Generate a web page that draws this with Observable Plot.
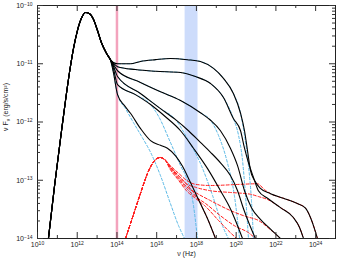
<!DOCTYPE html>
<html><head><meta charset="utf-8">
<script src="https://cdn.jsdelivr.net/npm/d3@7"></script>
<script src="https://cdn.jsdelivr.net/npm/@observablehq/plot@0.6"></script>
<style>body{margin:0;background:#fff}svg{font-family:"Liberation Sans",Arial,sans-serif}</style>
</head><body><div id="chart"></div>
<script>
// log10(nu [Hz]) and log10(nu F_nu [erg/s/cm2])
const synchNu = [10.55, 10.86, 11.21, 11.41, 11.61, 11.81, 12.01, 12.21, 12.42, 12.62, 12.82, 13.02, 13.22, 13.47, 13.67];
const synchF  = [-14.00, -13.09, -12.15, -11.63, -11.15, -10.74, -10.43, -10.22, -10.12, -10.14, -10.24, -10.43, -10.64, -10.82, -10.93];

const tail1Nu = [13.82, 14.03, 14.68, 15.18, 15.94, 16.69, 17.55, 18.20, 18.86, 19.36, 19.86, 20.22, 20.42, 20.57, 20.72, 20.92, 21.22, 21.73, 22.38, 23.08, 23.49, 23.74, 23.94, 24.09];
const tail1F  = [-10.98, -11.00, -11.00, -10.96, -10.93, -10.91, -10.93, -10.96, -11.08, -11.25, -11.51, -11.85, -12.15, -12.49, -12.83, -13.00, -13.14, -13.23, -13.31, -13.40, -13.48, -13.64, -13.83, -14.00];
const tail2Nu = [13.82, 14.03, 14.93, 15.94, 17.20, 17.95, 18.71, 19.36, 19.86, 20.22, 20.42, 20.62, 20.87, 21.12, 21.58, 22.23, 22.88, 23.19, 23.39];
const tail2F  = [-10.99, -11.05, -11.10, -11.13, -11.15, -11.22, -11.34, -11.58, -11.94, -12.15, -12.45, -12.70, -12.95, -13.18, -13.31, -13.47, -13.64, -13.81, -14.00];
const tail3Nu = [13.82, 14.03, 15.18, 16.19, 17.20, 18.20, 18.71, 19.21, 19.71, 20.07, 20.42, 20.77, 21.22, 21.73, 22.23];
const tail3F  = [-11.01, -11.12, -11.32, -11.48, -11.63, -11.84, -11.97, -12.15, -12.45, -12.75, -13.18, -13.47, -13.67, -13.84, -14.00];
const tail4Nu = [13.82, 14.03, 15.18, 16.19, 16.95, 17.60, 18.20, 18.71, 19.21, 19.71, 20.07, 20.37, 20.67, 20.97];
const tail4F  = [-11.04, -11.22, -11.51, -11.77, -11.96, -12.15, -12.35, -12.52, -12.70, -12.92, -13.18, -13.49, -13.76, -14.00];
const tail5Nu = [13.82, 14.03, 14.93, 15.69, 16.44, 17.20, 17.85, 18.56, 19.21, 19.71, 20.07, 20.32];
const tail5F  = [-11.08, -11.36, -11.53, -11.70, -11.91, -12.15, -12.45, -12.80, -13.18, -13.49, -13.78, -14.00];
const tail6Nu = [13.82, 14.03, 14.38, 14.68, 15.18, 15.69, 16.19, 16.54, 16.95, 17.30, 17.70, 18.20, 18.56, 18.96];
const tail6F  = [-11.15, -11.53, -11.72, -11.85, -12.11, -12.32, -12.40, -12.45, -12.58, -12.76, -13.04, -13.40, -13.66, -14.00];

// synchrotron components (cyan): shared points with the total, then their own cut-off
const cyanShared = [12, 9, 7, 5, 4, 2];
const cyan1Nu = [20.42, 20.62, 20.77, 20.87];          const cyan1F = [-12.23, -12.75, -13.35, -14.00];
const cyan2Nu = [20.12, 20.32, 20.47, 20.62];          const cyan2F = [-12.23, -12.66, -13.26, -14.00];
const cyan3Nu = [19.11, 19.56, 19.91, 20.17];          const cyan3F = [-12.23, -12.70, -13.26, -14.00];
const cyan4Nu = [17.60, 18.20, 18.81, 19.31, 19.61];   const cyan4F = [-12.32, -12.71, -13.26, -13.78, -14.00];
const cyan5Nu = [16.09, 16.69, 17.20, 17.55, 17.85, 18.05]; const cyan5F = [-11.90, -12.35, -12.75, -13.00, -13.43, -14.00];
const cyan6Nu = [14.43, 14.83, 15.28, 15.69, 16.19, 16.69, 17.10, 17.40]; const cyan6F = [-11.77, -12.01, -12.27, -12.52, -12.92, -13.40, -13.78, -14.00];

// Compton components (red): shared bump, then fanning tails
const bumpNu = [14.28, 14.43, 14.83, 15.18, 15.54, 15.79, 15.99, 16.19, 16.39];
const bumpF  = [-14.15, -14.00, -13.59, -13.23, -12.88, -12.71, -12.63, -12.61, -12.64];
const red1Nu = [16.69, 17.10, 17.50, 17.95, 18.71, 20.22, 21.07, 21.42, 21.73, 22.38, 23.08, 23.49, 23.74, 23.94, 24.09];
const red1F  = [-12.75, -12.88, -13.00, -13.07, -13.09, -13.07, -13.06, -13.16, -13.23, -13.31, -13.40, -13.48, -13.64, -13.83, -14.00];
const red2Nu = [16.69, 17.10, 17.50, 17.95, 18.71, 19.71, 20.72, 21.12, 21.58, 22.23, 22.88, 23.19, 23.39];
const red2F  = [-12.77, -12.92, -13.06, -13.12, -13.18, -13.21, -13.24, -13.28, -13.33, -13.47, -13.64, -13.81, -14.00];
const red3Nu = [16.69, 17.10, 17.50, 17.95, 18.71, 19.71, 20.47, 21.12, 21.73, 22.23];
const red3F  = [-12.78, -12.95, -13.11, -13.21, -13.35, -13.52, -13.62, -13.69, -13.85, -14.00];
const red4Nu = [16.69, 17.10, 17.50, 17.95, 18.46, 19.21, 19.96, 20.62, 20.97];
const red4F  = [-12.80, -12.97, -13.14, -13.28, -13.40, -13.61, -13.79, -13.90, -14.00];
const red5Nu = [16.69, 17.10, 17.50, 17.95, 18.46, 19.11, 19.71, 20.02];
const red5F  = [-12.82, -13.00, -13.18, -13.31, -13.45, -13.69, -13.90, -14.00];
const red6Nu = [16.69, 17.10, 17.50, 17.85, 18.20, 18.56, 18.96];
const red6F  = [-12.77, -12.92, -13.07, -13.21, -13.40, -13.66, -14.00];

const pinkLineExp = 14;
const bandExps = [17.43, 18.08];
const xTickExps = [10, 12, 14, 16, 18, 20, 22, 24];
const xMinorExps = [11, 13, 15, 17, 19, 21, 23];
const yTickExps = [-14, -13, -12, -11, -10];

const expOf = d => Math.round(Math.log10(d));

const rows = (nu, f, id) => nu.map((v, i) => ({x: 10 ** v, y: 10 ** f[i], id}));
const tails = [[tail1Nu, tail1F], [tail2Nu, tail2F], [tail3Nu, tail3F], [tail4Nu, tail4F], [tail5Nu, tail5F], [tail6Nu, tail6F]];
const cyans = [[cyan1Nu, cyan1F], [cyan2Nu, cyan2F], [cyan3Nu, cyan3F], [cyan4Nu, cyan4F], [cyan5Nu, cyan5F], [cyan6Nu, cyan6F]];
const reds = [[red1Nu, red1F], [red2Nu, red2F], [red3Nu, red3F], [red4Nu, red4F], [red5Nu, red5F], [red6Nu, red6F]];

const totalData = tails.flatMap(([n, f], k) => rows([...synchNu, ...n], [...synchF, ...f], "t" + k));
const cyanData = cyans.flatMap(([n, f], k) => {
  const s = cyanShared[k];
  return rows([synchNu.at(-1), ...tails[k][0].slice(0, s), ...n], [synchF.at(-1), ...tails[k][1].slice(0, s), ...f], "c" + k);
});
const redData = reds.flatMap(([n, f], k) => rows([...bumpNu, ...n], [...bumpF, ...f], "r" + k));

const yMinor = yTickExps.slice(0, -1).flatMap(e => d3.range(2, 10).map(m => m * 10 ** e));
const W = 342, H = 263, mL = 37, mR = 7, mT = 5, mB = 25;
const fw = W - mL - mR, fh = H - mT - mB;

const chart = Plot.plot({
  width: W, height: H, marginLeft: mL, marginRight: mR, marginTop: mT, marginBottom: mB,
  style: {fontFamily: "Liberation Sans, Arial, sans-serif", background: "#fff"},
  x: {type: "log", domain: [1e10, 1e25], axis: null},
  y: {type: "log", domain: [1e-14, 1e-10], axis: null},
  marks: [
    Plot.rect([bandExps], {x1: d => 10 ** d[0], x2: d => 10 ** d[1], fill: "#cddcfb"}),
    Plot.ruleX([10 ** pinkLineExp], {stroke: "#f3a3bd", strokeWidth: 2.5}),
    Plot.line(cyanData, {x: "x", y: "y", z: "id", stroke: "#5ab9e6", strokeWidth: 1, strokeDasharray: "2.5,2", curve: "monotone-x", clip: true}),
    Plot.line(redData, {x: "x", y: "y", z: "id", stroke: "#ff1e1e", strokeWidth: 1, strokeDasharray: "3,2", curve: "monotone-x", clip: true}),
    Plot.line(totalData, {x: "x", y: "y", z: "id", stroke: "#000", strokeWidth: 1.1, curve: "monotone-x", clip: true}),
    Plot.frame({stroke: "#222", strokeWidth: 1}),
    Plot.tickX(xTickExps.map(e => 10 ** e), {x: d => d, insetTop: fh - 6, stroke: "#333"}),
    Plot.tickX(xMinorExps.map(e => 10 ** e), {x: d => d, insetTop: fh - 3, stroke: "#333"}),
    Plot.tickX(xTickExps.map(e => 10 ** e), {x: d => d, insetBottom: fh - 6, stroke: "#333"}),
    Plot.tickX(xMinorExps.map(e => 10 ** e), {x: d => d, insetBottom: fh - 3, stroke: "#333"}),
    Plot.tickY(yTickExps.map(e => 10 ** e), {y: d => d, insetRight: fw - 6, stroke: "#333"}),
    Plot.tickY(yMinor, {y: d => d, insetRight: fw - 3, stroke: "#333"}),
    Plot.tickY(yTickExps.map(e => 10 ** e), {y: d => d, insetLeft: fw - 6, stroke: "#333"}),
    Plot.tickY(yMinor, {y: d => d, insetLeft: fw - 3, stroke: "#333"}),
    Plot.axisX(xTickExps.map(e => 10 ** e), {anchor: "bottom", label: null, tickSize: 0, tickPadding: 4, tickFormat: d => "10^" + expOf(d), fontSize: 7, fill: "#222"}),
    Plot.axisY(yTickExps.map(e => 10 ** e), {anchor: "left", label: null, tickSize: 0, tickPadding: 5, tickFormat: d => "10^" + expOf(d), fontSize: 7, fill: "#222"}),
    Plot.text(["ν (Hz)"], {frameAnchor: "bottom", dy: 17, fontSize: 7, fill: "#222"})
  ]
});
const svg = d3.select(chart);
// render "10^e" tick labels with raised exponents
svg.selectAll("text").each(function() {
  const s = this.textContent;
  if (!s.startsWith("10^")) return;
  const e = s.slice(3).replace("-", "\u2212");
  const el = d3.select(this);
  el.text(null);
  el.append("tspan").text("10");
  el.append("tspan").attr("dy", "-0.45em").attr("font-size", "5px").text(e);
});
const t = svg.append("text")
  .attr("transform", "translate(8,107) rotate(-90)")
  .attr("text-anchor", "middle").attr("font-size", 7).attr("fill", "#222");
t.append("tspan").text("ν F");
t.append("tspan").attr("font-size", 5).attr("dy", 2).text("ν");
t.append("tspan").attr("dy", -2).text(" (erg/s/cm²)");
document.getElementById("chart").append(chart);
</script>
</body></html>
